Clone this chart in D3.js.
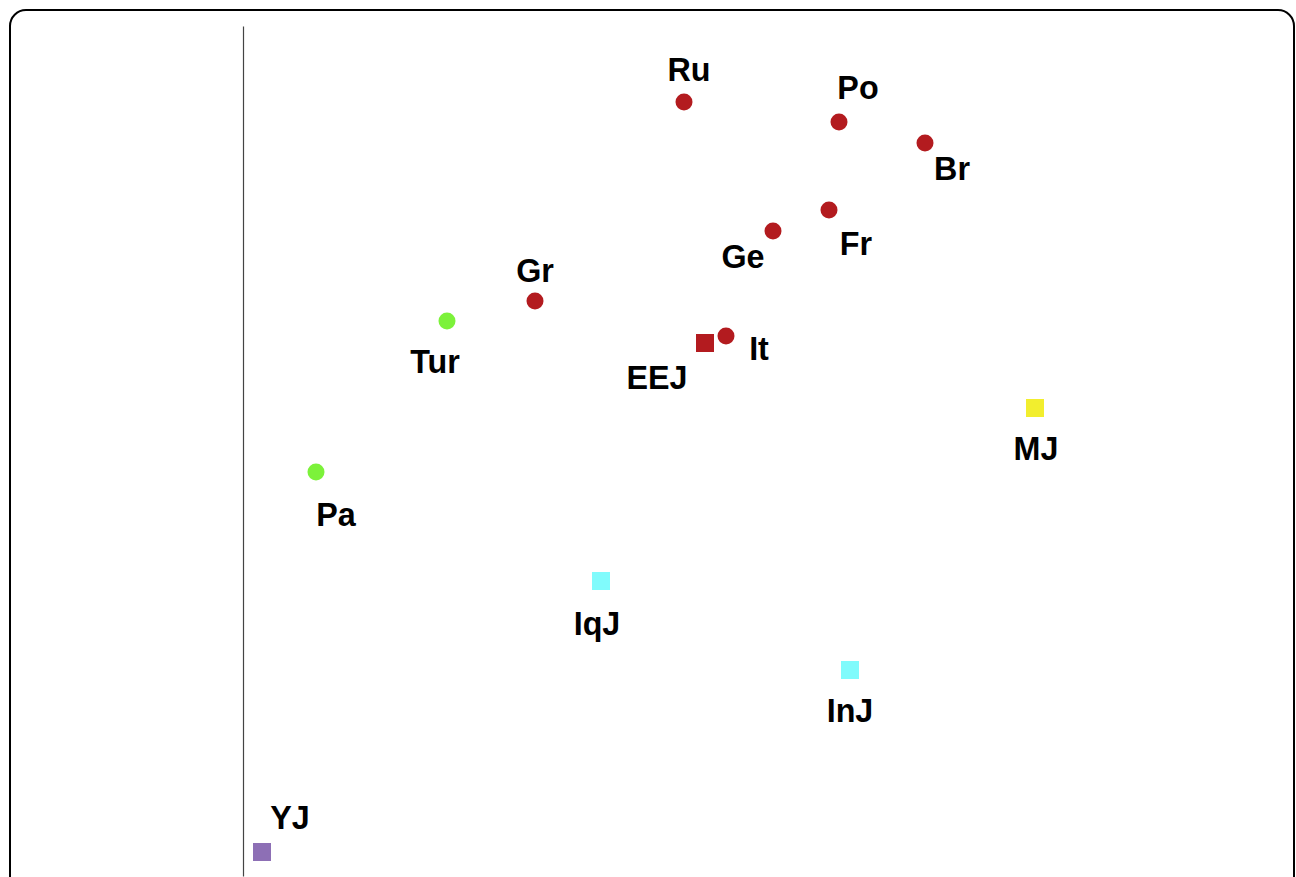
<!DOCTYPE html>
<html>
<head>
<meta charset="utf-8">
<script src="https://cdn.jsdelivr.net/npm/d3@7"></script>
<style>
  html, body { margin: 0; padding: 0; background: #fff; }
  svg { display: block; }
</style>
</head>
<body>
<div id="chart"></div>
<script>
// populations
const names  = ["Ru", "Po", "Br", "Fr", "Ge", "Gr", "It", "EEJ", "Tur", "Pa", "MJ", "IqJ", "InJ", "YJ"];
const xVals  = [44.1, 59.6, 68.2, 58.6, 53.0, 29.2, 48.3, 46.2, 20.4, 7.3, 79.2, 35.8, 60.7, 1.9];
const yVals  = [77.4, 75.4, 73.3, 66.6, 64.5, 57.5, 54.0, 53.3, 55.5, 40.4, 46.8, 29.5, 20.6, 2.4];
const groups = ["eur", "eur", "eur", "eur", "eur", "eur", "eur", "eej", "me", "me", "mj", "iqj", "inj", "yj"];

// marker style per group
const groupColor = { eur: "#b31b1f", eej: "#b31b1f", me: "#7cf23a", mj: "#f2ee2e", iqj: "#80fbfc", inj: "#80fbfc", yj: "#8d6fb5" };
const groupShape = { eur: "circle", eej: "square", me: "circle", mj: "square", iqj: "square", inj: "square", yj: "square" };

// label placement relative to marker (px)
const labelOffset = {
  Ru: [5, -21], Po: [19, -23], Br: [27, 37], Fr: [27, 45], Ge: [-30, 37], Gr: [0, -19],
  It: [33, 24], EEJ: [-48, 46], Tur: [-12, 52], Pa: [20, 54], MJ: [1, 52], IqJ: [-4, 54],
  InJ: [0, 52], YJ: [28, -23]
};

const W = 1296, H = 877;
const svg = d3.select("#chart").append("svg").attr("width", W).attr("height", H);

// outer frame
svg.append("rect")
  .attr("x", 10).attr("y", 10)
  .attr("width", 1284).attr("height", 900)
  .attr("rx", 16).attr("ry", 16)
  .attr("fill", "#fff").attr("stroke", "#000").attr("stroke-width", 2);

const x = d3.scaleLinear().domain([0, 105]).range([243, 1293]);
const y = d3.scaleLinear().domain([0, 85]).range([876, 26]);

// vertical axis line
const yAxis = svg.append("g").attr("transform", `translate(${x(0)},0)`)
  .call(d3.axisLeft(y).ticks(0).tickSize(0).tickFormat(""));
yAxis.select(".domain").attr("stroke", "#444").attr("stroke-width", 1.2);

const pts = names.map((n, i) => ({ name: n, x: xVals[i], y: yVals[i], g: groups[i] }));

const g = svg.append("g");

g.selectAll("circle.pt")
  .data(pts.filter(d => groupShape[d.g] === "circle"))
  .enter().append("circle")
  .attr("class", "pt")
  .attr("cx", d => x(d.x)).attr("cy", d => y(d.y))
  .attr("r", 8.5)
  .attr("fill", d => groupColor[d.g]);

const sq = 18;
g.selectAll("rect.pt")
  .data(pts.filter(d => groupShape[d.g] === "square"))
  .enter().append("rect")
  .attr("class", "pt")
  .attr("x", d => x(d.x) - sq / 2).attr("y", d => y(d.y) - sq / 2)
  .attr("width", sq).attr("height", sq)
  .attr("fill", d => groupColor[d.g]);

// labels, slightly condensed
g.selectAll("text.lbl")
  .data(pts)
  .enter().append("text")
  .attr("class", "lbl")
  .attr("transform", d => `translate(${x(d.x) + labelOffset[d.name][0]},${y(d.y) + labelOffset[d.name][1]}) scale(0.95,1)`)
  .attr("text-anchor", "middle")
  .attr("font-family", "Liberation Sans, Arial, sans-serif")
  .attr("font-weight", "bold")
  .attr("font-size", 34)
  .attr("fill", "#000")
  .text(d => d.name);
</script>
</body>
</html>
